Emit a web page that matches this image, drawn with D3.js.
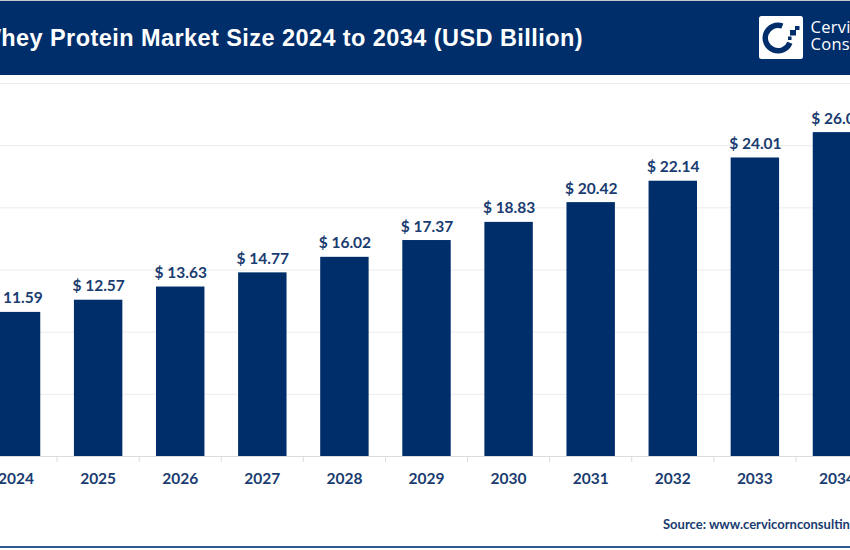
<!DOCTYPE html>
<html>
<head>
<meta charset="utf-8">
<script src="https://cdn.jsdelivr.net/npm/d3@7"></script>
<style>
  html, body { margin: 0; padding: 0; background: #fff; overflow: hidden; }
  svg { display: block; }
  text { font-family: Lato, sans-serif; font-weight: 700; }
</style>
</head>
<body>
<script>
var years = ['2024', '2025', '2026', '2027', '2028', '2029', '2030', '2031', '2032', '2033', '2034'];
var marketSize = [11.59, 12.57, 13.63, 14.77, 16.02, 17.37, 18.83, 20.42, 22.14, 24.01, 26.05];
var yTicks = [0, 5, 10, 15, 20, 25, 30];

var navy = '#002e6b';
var labelColor = '#1a3c70';

var svg = d3.select('body').append('svg')
    .attr('width', 850)
    .attr('height', 550);

// x range runs past both window edges, the first and last bars are cropped in the reference
var x = d3.scaleBand()
    .domain(years)
    .range([-25, 878])
    .paddingInner(0.41)
    .paddingOuter(0.205);

var y = d3.scaleLinear()
    .domain([0, 30])
    .range([456, 83]);

// gridlines
svg.append('g')
    .selectAll('line')
    .data(yTicks.slice(1))
    .enter().append('line')
    .attr('x1', 0)
    .attr('x2', 850)
    .attr('y1', d => y(d) + 0.5)
    .attr('y2', d => y(d) + 0.5)
    .attr('stroke', '#ececec')
    .attr('stroke-width', 1);

// bars
svg.append('g')
    .selectAll('rect')
    .data(marketSize)
    .enter().append('rect')
    .attr('x', (d, i) => x(years[i]))
    .attr('y', d => y(d))
    .attr('width', x.bandwidth())
    .attr('height', d => y(0) - y(d))
    .attr('fill', navy);

// value labels
svg.append('g')
    .selectAll('text')
    .data(marketSize)
    .enter().append('text')
    .attr('x', (d, i) => x(years[i]) + x.bandwidth() / 2 + 0.5)
    .attr('y', d => y(d) - 8.5)
    .attr('text-anchor', 'middle')
    .attr('fill', labelColor)
    .style('font-size', '15.5px')
    .text(d => '$ ' + d.toFixed(2));

// x axis: ticks sit between the bars
var axisY = y(0);
svg.append('line')
    .attr('x1', 0)
    .attr('x2', 850)
    .attr('y1', axisY + 0.5)
    .attr('y2', axisY + 0.5)
    .attr('stroke', '#dcdcdc');

svg.append('g')
    .selectAll('line')
    .data(years)
    .enter().append('line')
    .attr('x1', d => x(d) + x.bandwidth() + x.step() * 0.205)
    .attr('x2', d => x(d) + x.bandwidth() + x.step() * 0.205)
    .attr('y1', axisY)
    .attr('y2', axisY + 6)
    .attr('stroke', '#dcdcdc');

svg.append('g')
    .selectAll('text')
    .data(years)
    .enter().append('text')
    .attr('x', d => x(d) + x.bandwidth() / 2)
    .attr('y', 484)
    .attr('text-anchor', 'middle')
    .attr('fill', labelColor)
    .style('font-size', '15.5px')
    .text(d => d);

// header band
svg.append('rect')
    .attr('x', 0)
    .attr('y', 0)
    .attr('width', 850)
    .attr('height', 75)
    .attr('fill', navy);

svg.append('rect')
    .attr('x', 0)
    .attr('y', 0)
    .attr('width', 850)
    .attr('height', 1)
    .attr('fill', '#c4c8ce');

svg.append('text')
    .attr('x', 583)
    .attr('y', 46)
    .attr('text-anchor', 'end')
    .attr('fill', '#fff')
    .style('font-family', '"Liberation Sans", Arial, sans-serif')
    .style('font-size', '23.5px')
    .style('letter-spacing', '0.43px')
    .text('Whey Protein Market Size 2024 to 2034 (USD Billion)');

// logo
var logo = svg.append('g').attr('transform', 'translate(759,16)');
logo.append('rect')
    .attr('width', 44)
    .attr('height', 43)
    .attr('rx', 2.5)
    .attr('fill', '#fff');
logo.append('path')
    .attr('transform', 'translate(19,22)')
    .attr('d', d3.arc()
        .innerRadius(10)
        .outerRadius(15.5)
        .startAngle(1.95)
        .endAngle(Math.PI * 2 + 0.35)())
    .attr('fill', navy);
logo.append('rect').attr('x', 31).attr('y', 14).attr('width', 6).attr('height', 5.5).attr('fill', navy);
logo.append('rect').attr('x', 36).attr('y', 10).attr('width', 4.5).attr('height', 4).attr('fill', navy);
logo.append('rect').attr('x', 29).attr('y', 20.5).attr('width', 3.5).attr('height', 3.5).attr('fill', navy);

svg.append('text')
    .attr('x', 810.5)
    .attr('y', 33)
    .attr('fill', '#fff')
    .style('font-family', '"Open Sans", sans-serif')
    .style('font-weight', 400)
    .style('font-size', '16.5px')
    .style('letter-spacing', '0.3px')
    .text('Cervicorn');
svg.append('text')
    .attr('x', 810.5)
    .attr('y', 50)
    .attr('fill', '#fff')
    .style('font-family', '"Open Sans", sans-serif')
    .style('font-weight', 400)
    .style('font-size', '16.5px')
    .style('letter-spacing', '0.3px')
    .text('Consulting');

// source line and bottom rule
svg.append('text')
    .attr('x', 663)
    .attr('y', 529)
    .attr('fill', labelColor)
    .style('font-size', '13px')
    .text('Source: www.cervicornconsulting.com');

svg.append('rect')
    .attr('x', 0)
    .attr('y', 546)
    .attr('width', 850)
    .attr('height', 2)
    .attr('fill', '#2f5a8f');
</script>
</body>
</html>
